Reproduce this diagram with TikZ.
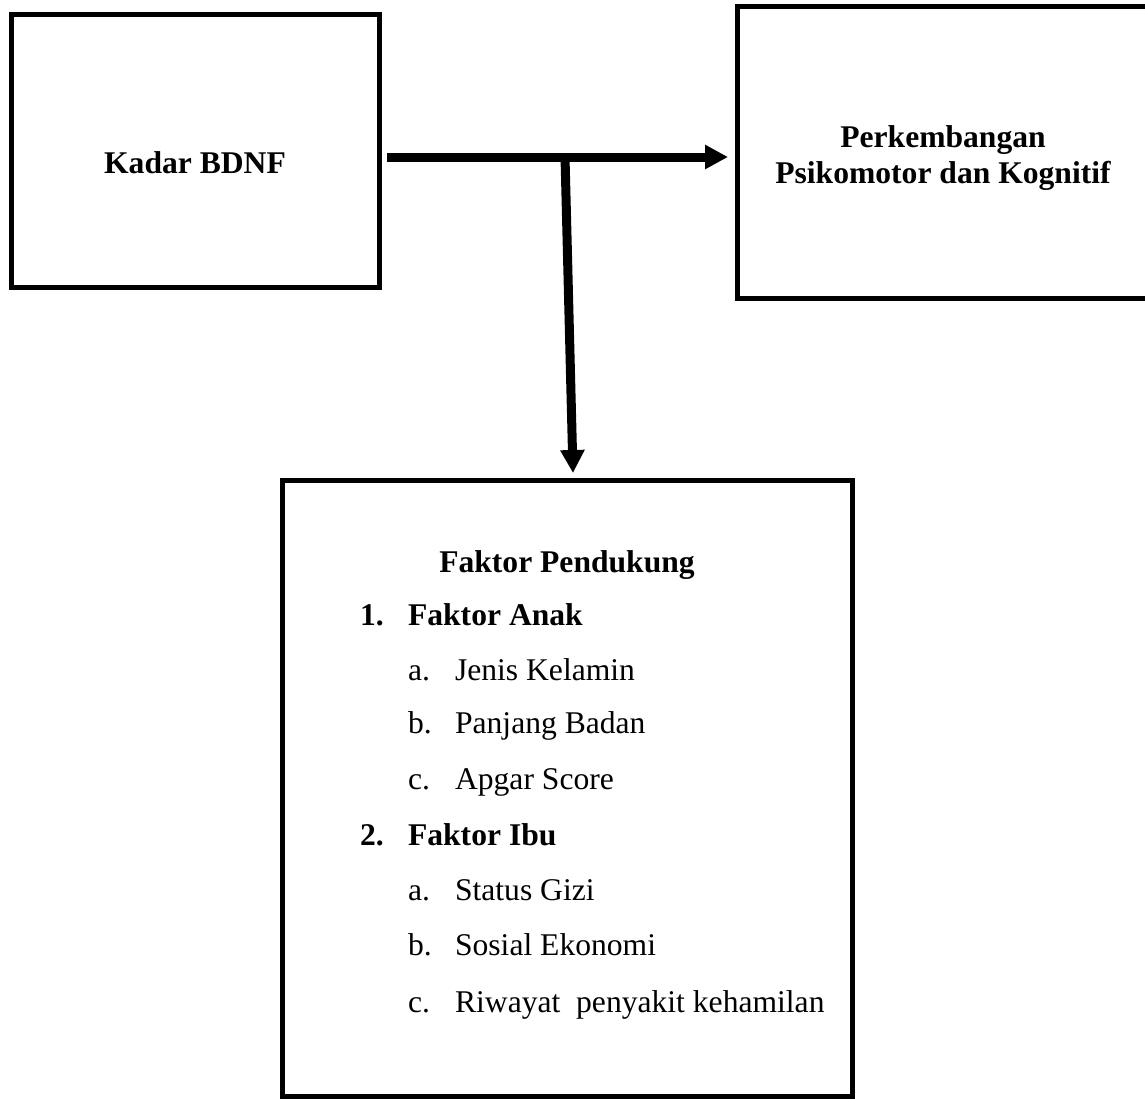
\documentclass[tikz,border=0pt]{standalone}
\usepackage{fontspec}
\setmainfont{Liberation Serif}
\usetikzlibrary{arrows.meta}
\begin{document}
\begin{tikzpicture}[x=0.5pt, y=-0.5pt, font=\fontsize{15.8}{18}\selectfont, line join=miter,
	kotak/.style={draw, line width=2.5pt, inner sep=0pt},
	panah/.style={line width=4.5pt, -{Triangle[length=11.5pt, width=11.5pt]}},
	judul/.style={font=\fontsize{15.8}{18}\selectfont\bfseries, anchor=base},
	nomor/.style={font=\fontsize{15.8}{18}\selectfont\bfseries, anchor=base west},
	butir/.style={anchor=base west}]
	\useasboundingbox (0,0) rectangle (1145,1098);
	\node[kotak, minimum width=184pt, minimum height=136.5pt] (kadar) at (195,150.5) {};
	\node[kotak, minimum width=211.5pt, minimum height=146pt] (perk) at (948.5,152) {};
	\node[kotak, minimum width=285pt, minimum height=308pt] (faktor) at (567,788) {};
	\path
	(195,173) node[judul] (tkadar) {Kadar BDNF}
	(943,147) node[judul] (tperkA) {Perkembangan}
	(943,183) node[judul] (tperkB) {Psikomotor dan Kognitif}
	(567,572) node[judul] (tfaktor) {Faktor Pendukung}

	(353,625) node[nomor] (n1) {1.}
	(401,625) node[nomor] (anak) {Faktor Anak}
	(401,680) node[butir] (a1) {a.}
	(448,680) node[butir] (jenis) {Jenis Kelamin}
	(401,733) node[butir] (b1) {b.}
	(448,733) node[butir] (panjang) {Panjang Badan}
	(401,789) node[butir] (c1) {c.}
	(448,789) node[butir] (apgar) {Apgar Score}

	(353,845) node[nomor] (n2) {2.}
	(401,845) node[nomor] (ibu) {Faktor Ibu}
	(401,900) node[butir] (a2) {a.}
	(448,900) node[butir] (gizi) {Status Gizi}
	(401,955) node[butir] (b2) {b.}
	(448,955) node[butir] (sosial) {Sosial Ekonomi}
	(401,1012) node[butir] (c2) {c.}
	(448,1012) node[butir] (riwayat) {Riwayat~~penyakit kehamilan};

	\coordinate (cabang) at (565,157);
	\draw[panah] ([shift={(5.5,6.5)}]kadar.east) -- ([shift={(-6.5,5)}]perk.west);
	\draw[panah] (cabang) -- ([shift={(6,-4.5)}]faktor.north);
\end{tikzpicture}
\end{document}
